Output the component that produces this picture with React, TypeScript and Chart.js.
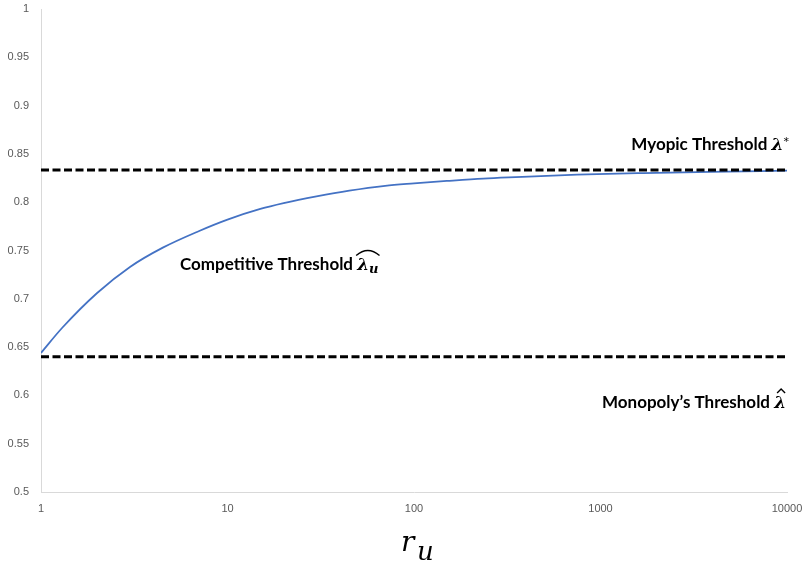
import React, { useEffect, useRef } from 'react';
import { Chart, registerables } from 'chart.js';

Chart.register(...registerables);

// ---- data ----
const rValues = [1, 1.3, 2, 3, 4.5, 7, 10, 15, 20, 30, 45, 70, 100, 150, 235, 350, 750, 1700, 3900, 10000];
const competitiveThreshold = [0.644, 0.670, 0.706, 0.733, 0.753, 0.770, 0.782, 0.793, 0.799, 0.806, 0.812, 0.817, 0.8195, 0.822, 0.8245, 0.826, 0.8285, 0.8302, 0.8315, 0.8326];
const myopicThreshold = 0.8333;
const monopolyThreshold = 0.64;
const xRange = [1, 10000];
const xTickValues = [1, 10, 100, 1000, 10000];
const yMin = 0.5;
const yMax = 1;
const yStep = 0.05;

type Part = { text: string; font: string; dy?: number; dx?: number };

function partsWidth(ctx: CanvasRenderingContext2D, parts: Part[]) {
  let w = 0;
  for (const p of parts) {
    ctx.font = p.font;
    w += ctx.measureText(p.text).width + (p.dx || 0);
  }
  return w;
}

function drawParts(ctx: CanvasRenderingContext2D, parts: Part[], x: number, baseline: number) {
  const positions: { x0: number; x1: number }[] = [];
  let cx = x;
  for (const p of parts) {
    ctx.font = p.font;
    ctx.fillText(p.text, cx, baseline + (p.dy || 0));
    const w = ctx.measureText(p.text).width;
    positions.push({ x0: cx, x1: cx + w });
    cx += w + (p.dx || 0);
  }
  return positions;
}

const LABEL_FONT = "bold 17px Lato";
const LAMBDA_FONT = "bold italic 17px 'DejaVu Serif'";

const annotationPlugin = {
  id: 'thresholdLabels',
  afterDraw(chart: any) {
    const ctx: CanvasRenderingContext2D = chart.ctx;
    const area = chart.chartArea;
    ctx.save();
    ctx.fillStyle = '#000';
    ctx.strokeStyle = '#000';
    ctx.textAlign = 'left';
    ctx.textBaseline = 'alphabetic';

    // Myopic Threshold λ*
    const myo: Part[] = [
      { text: 'Myopic Threshold ', font: LABEL_FONT },
      { text: 'λ', font: LAMBDA_FONT, dx: 0 },
      { text: '*', font: "11px 'DejaVu Sans'", dy: -5 },
    ];
    const myoW = partsWidth(ctx, myo);
    drawParts(ctx, myo, 789 - myoW, 149.5);

    // Competitive Threshold λ̂_u
    const comp: Part[] = [
      { text: 'Competitive Threshold ', font: LABEL_FONT },
      { text: 'λ', font: LAMBDA_FONT },
      { text: 'u', font: "bold italic 13px 'DejaVu Serif'", dy: 3 },
    ];
    const cp = drawParts(ctx, comp, 180, 269.5);
    const hx0 = cp[1].x0 - 1;
    const hx1 = cp[2].x1 + 1;
    ctx.lineWidth = 1.4;
    ctx.beginPath();
    ctx.moveTo(hx0, 269.5 - 14);
    ctx.quadraticCurveTo((hx0 + hx1) / 2, 269.5 - 24, hx1, 269.5 - 14);
    ctx.stroke();

    // Monopoly's Threshold λ̂
    const mono: Part[] = [
      { text: 'Monopoly’s Threshold ', font: LABEL_FONT },
      { text: 'λ', font: LAMBDA_FONT },
    ];
    const mp = drawParts(ctx, mono, 602, 408);
    const lx = (mp[1].x0 + mp[1].x1) / 2 + 1;
    ctx.lineWidth = 1.4;
    ctx.beginPath();
    ctx.moveTo(lx - 4, 408 - 15);
    ctx.lineTo(lx, 408 - 19);
    ctx.lineTo(lx + 4, 408 - 15);
    ctx.stroke();

    // axis title r_u
    ctx.font = "italic 28px 'DejaVu Serif'";
    const cx = (area.left + area.right) / 2;
    ctx.fillText('r', cx - 13, 551);
    ctx.font = "italic 26px 'DejaVu Serif'";
    ctx.fillText('u', cx + 3, 560);

    ctx.restore();
  },
};

export default function App() {
  const canvasRef = useRef<HTMLCanvasElement | null>(null);

  useEffect(() => {
    if (!canvasRef.current) return;
    const chart = new Chart(canvasRef.current, {
      type: 'line',
      data: {
        datasets: [
          {
            label: 'Competitive Threshold',
            data: rValues.map((r, i) => ({ x: r, y: competitiveThreshold[i] })),
            borderColor: '#4472C4',
            borderWidth: 1.75,
            pointRadius: 0,
            cubicInterpolationMode: 'monotone',
            fill: false,
            order: 2,
          },
          {
            label: 'Myopic Threshold',
            data: xRange.map((x) => ({ x, y: myopicThreshold })),
            borderColor: '#000',
            borderWidth: 3,
            borderDash: [8, 3.5],
            pointRadius: 0,
            fill: false,
            order: 1,
          },
          {
            label: "Monopoly's Threshold",
            data: xRange.map((x) => ({ x, y: monopolyThreshold })),
            borderColor: '#000',
            borderWidth: 3,
            borderDash: [8, 3.5],
            pointRadius: 0,
            fill: false,
            order: 1,
          },
        ],
      },
      options: {
        animation: false,
        responsive: true,
        maintainAspectRatio: false,
        layout: { padding: { left: 0, right: 17, top: 9, bottom: 0 } },
        plugins: {
          legend: { display: false },
          tooltip: { enabled: false },
        },
        scales: {
          x: {
            type: 'logarithmic',
            min: xRange[0],
            max: xRange[1],
            afterBuildTicks: (s: any) => {
              s.ticks = xTickValues.map((v) => ({ value: v }));
            },
            ticks: {
              callback: (v: any) => String(v),
              color: '#595959',
              font: { family: 'Liberation Sans', size: 11 },
              padding: 10,
              maxRotation: 0,
              autoSkip: false,
            },
            grid: { display: false, drawTicks: false },
            border: { display: true, color: '#d9d9d9', width: 1 },
            afterFit: (s: any) => {
              s.height = 75;
              s.paddingLeft = 0;
              s.paddingRight = 0;
            },
          },
          y: {
            min: yMin,
            max: yMax,
            ticks: {
              stepSize: yStep,
              callback: (v: any) => String(Math.round(Number(v) * 100) / 100),
              color: '#595959',
              font: { family: 'Liberation Sans', size: 11 },
              padding: 12,
            },
            grid: { display: false, drawTicks: false },
            border: { display: true, color: '#d9d9d9', width: 1 },
            afterFit: (s: any) => {
              s.width = 41;
              s.paddingTop = 0;
              s.paddingBottom = 0;
            },
          },
        },
      },
      plugins: [annotationPlugin],
    });
    return () => chart.destroy();
  }, []);

  return (
    <div style={{ position: 'fixed', left: 0, top: 0, width: 804, height: 567, background: '#fff' }}>
      <canvas ref={canvasRef} />
    </div>
  );
}
